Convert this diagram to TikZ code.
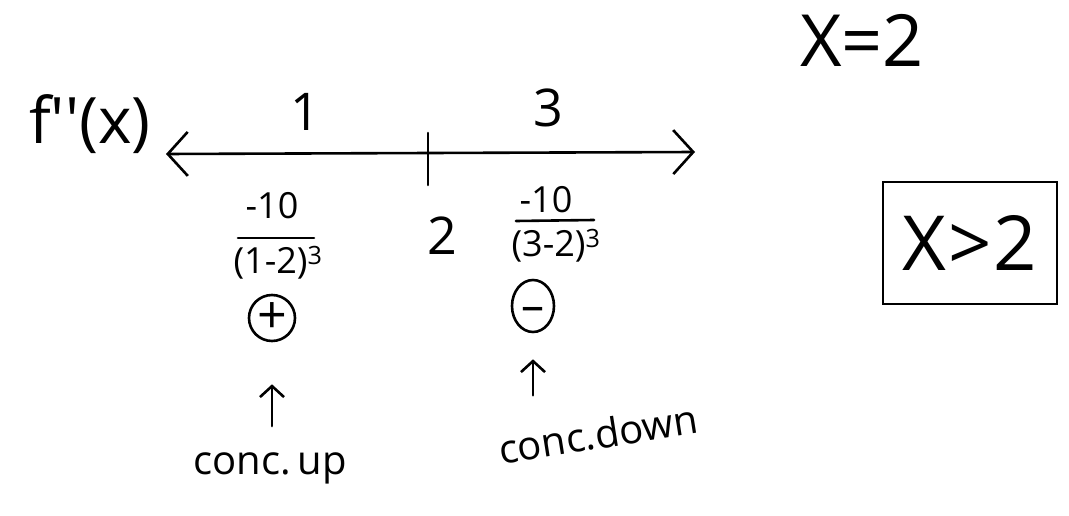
\documentclass[tikz,border=0pt]{standalone}
\usepackage{fontspec}
\setmainfont{Open Sans}
\usetikzlibrary{shapes.geometric, positioning, arrows.meta}

\begin{document}
\begin{tikzpicture}[
    x=1pt, y=-1pt,
    ink/.style={line width=2.6pt, line cap=round, line join=round},
    big/.style={font=\fontsize{52}{56}\selectfont, inner sep=0pt},
    mid/.style={font=\fontsize{40}{42}\selectfont, inner sep=0pt},
    frac/.style={font=\fontsize{36}{38}\selectfont, inner sep=0pt},
    signcirc/.style={circle, draw, line width=2.6pt, minimum size=46pt,
      inner sep=0pt, font=\fontsize{52}{52}\selectfont},
    chev/.tip={Straight Barb[length=20pt, width=44pt, line width=2.6pt]},
    upar/.tip={Straight Barb[length=11pt, width=24pt]}
  ]
    \useasboundingbox (0,0) rectangle (1069,516);

    %% Title
    \node[big, font=\fontsize{64}{66}\selectfont] (fpp) at (90,124) {f\textquotesingle\textquotesingle(x)};

    %% Number line
    \coordinate (lend) at (166,154);
    \coordinate (rend) at (695,152);
    \coordinate (tick) at (428,153);
    \draw[ink, chev-chev] (lend) -- (rend);
    \draw[ink] ([yshift=20pt]tick) -- ([yshift=-32pt]tick);

    %% Test points
    \node[big] (one) at (305,112) {1};
    \node[big] (three) at (548,108) {3};
    \node[big] (two) at (442,236) {2};

    %% Fractions
    \node[frac] (numa) at (272,206) {-10};
    \node[frac] (dena) at (278,263) {(1-2)\textsuperscript{3}};
    \draw[ink] (238,238) -- (314,238);
    \node[frac] (numb) at (546,200) {-10};
    \node[frac] (denb) at (556,246) {(3-2)\textsuperscript{3}};
    \draw[ink] (516,221) -- (594,220);

    %% Signs
    \node[signcirc] (plus) at (272,318) {+};
    \node[signcirc, ellipse, minimum width=42pt, minimum height=52pt,
      text height=31pt, text depth=0pt, font=\fontsize{46}{46}\selectfont] (minus) at (533,306) {–};

    %% Conclusions
    \node[mid] (up) at (270,468) {conc.\,up};
    \node[mid, rotate=9] (down) at (598,434) {conc.down};
    \draw[ink, -upar] ([yshift=26pt]up.north -| plus) -- ([yshift=-42pt]plus.south);
    \draw[ink, -upar] ([yshift=-62pt]minus.south) -- ([yshift=-26pt]minus.south);

    %% Answers
    \node[big, font=\fontsize{72}{74}\selectfont] (xeq) at (862,40) {X=2};
    \node[big, font=\fontsize{76}{78}\selectfont, draw, line width=2.6pt,
      minimum width=174pt, minimum height=122pt] (ans) at (970,243) {X\kern2pt>\kern2pt2};
  \end{tikzpicture}
\end{document}
